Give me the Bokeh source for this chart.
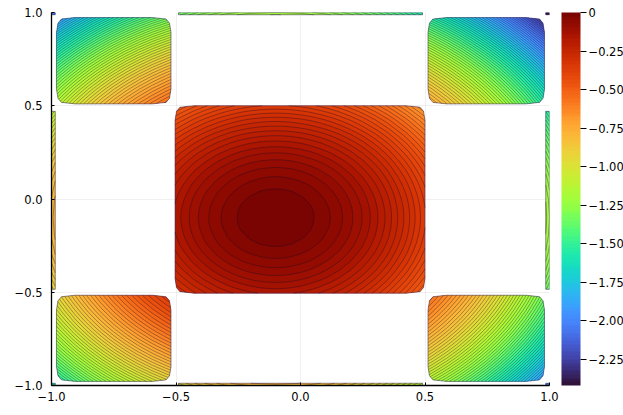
import numpy as np
from bokeh.plotting import figure
from bokeh.embed import file_html
from bokeh.resources import INLINE
from bokeh.models import (Range1d, FixedTicker, LinearColorMapper, ColorBar, BoxAnnotation, AllLabels)
from bokeh.palettes import Turbo256, linear_palette

# Depth below the peak along each axis (spacing about 0.0242).
x_left_edge = [-1.0, -0.985]
d_left_edge = [0.81, 0.7832]
x_left = [-0.98, -0.974, -0.96, -0.905, -0.85, -0.80, -0.75, -0.70, -0.65, -0.595, -0.54, -0.526, -0.52]
d_left = [0.7744, 0.7639, 0.7396, 0.6480, 0.5625, 0.49, 0.4225, 0.36, 0.3025, 0.2450, 0.1936, 0.1815, 0.1764]
x_mid = [-0.504, -0.498, -0.484, -0.429, -0.38, -0.33, -0.28, -0.24, -0.20, -0.16, -0.13, -0.10, -0.07, -0.04,
         0.0, 0.04, 0.08, 0.12, 0.16, 0.20, 0.25, 0.30, 0.35, 0.425, 0.48, 0.494, 0.5]
d_xmid = [0.1632, 0.1584, 0.1475, 0.1082, 0.0784, 0.0529, 0.0324, 0.0196, 0.01, 0.0036, 0.0009, 0.0, 0.0009, 0.0036,
          0.01, 0.0196, 0.0324, 0.0484, 0.0676, 0.09, 0.1225, 0.16, 0.2025, 0.2756, 0.3364, 0.3528, 0.36]
x_right = [0.512, 0.518, 0.532, 0.587, 0.64, 0.69, 0.74, 0.79, 0.84, 0.905, 0.96, 0.974, 0.98]
d_right = [0.3745, 0.3819, 0.3994, 0.4720, 0.5476, 0.6241, 0.7056, 0.7921, 0.8836, 1.0100, 1.1236, 1.1535, 1.1664]
x_right_edge = [0.985, 1.0]
d_right_edge = [1.1772, 1.21]
x_sliver = [-0.49, -0.4, -0.3, -0.2, -0.1, 0.0, 0.1, 0.2, 0.3, 0.4, 0.49]
d_xsliver = [0.1521, 0.09, 0.04, 0.01, 0.0, 0.01, 0.04, 0.09, 0.16, 0.25, 0.3481]

y_bottom_edge = [-1.0, -0.988]
e_bottom_edge = [0.81, 0.7885]
y_bottom = [-0.978, -0.97, -0.948, -0.898, -0.85, -0.80, -0.75, -0.70, -0.65, -0.596, -0.546, -0.524, -0.516]
e_bottom = [0.7709, 0.7569, 0.7191, 0.6368, 0.5625, 0.49, 0.4225, 0.36, 0.3025, 0.2460, 0.1989, 0.1798, 0.1731]
y_mid = [-0.505, -0.497, -0.475, -0.425, -0.38, -0.33, -0.28, -0.24, -0.20, -0.16, -0.13, -0.10, -0.07, -0.04,
         0.0, 0.04, 0.08, 0.12, 0.16, 0.20, 0.25, 0.30, 0.35, 0.42, 0.47, 0.492, 0.5]
e_ymid = [0.1640, 0.1576, 0.1406, 0.1056, 0.0784, 0.0529, 0.0324, 0.0196, 0.01, 0.0036, 0.0009, 0.0, 0.0009, 0.0036,
          0.01, 0.0196, 0.0324, 0.0484, 0.0676, 0.09, 0.1225, 0.16, 0.2025, 0.2704, 0.3249, 0.3505, 0.36]
y_top = [0.51, 0.518, 0.54, 0.59, 0.65, 0.70, 0.75, 0.80, 0.85, 0.893, 0.943, 0.965, 0.973]
e_top = [0.3721, 0.3819, 0.4096, 0.4761, 0.5625, 0.64, 0.7225, 0.81, 0.9025, 0.9860, 1.0878, 1.1342, 1.1513]
y_top_edge = [0.988, 1.0]
e_top_edge = [1.1837, 1.21]
y_sliver = [-0.484, -0.4, -0.3, -0.2, -0.1, 0.0, 0.1, 0.2, 0.3, 0.4, 0.47]
e_ysliver = [0.1475, 0.09, 0.04, 0.01, 0.0, 0.01, 0.04, 0.09, 0.16, 0.25, 0.3249]

axis_ticks = [-1.0, -0.5, 0.0, 0.5, 1.0]
axis_labels = ["\u22121.0", "\u22120.5", "0.0", "0.5", "1.0"]
bar_ticks = [0.0, -0.25, -0.5, -0.75, -1.0, -1.25, -1.5, -1.75, -2.0, -2.25]
bar_labels = ["0", "\u22120.25", "\u22120.50", "\u22120.75", "\u22121.00", "\u22121.25", "\u22121.50", "\u22121.75", "\u22122.00", "\u22122.25"]
z_low, z_high, n_bands = -2.42, 0.0, 100

levels = np.linspace(z_low, z_high, n_bands + 1)
step = levels[1] - levels[0]
under_levels = np.linspace(z_low - step / 2, z_high + step / 2, n_bands + 2)
palette = linear_palette(Turbo256, n_bands)
under_palette = linear_palette(Turbo256, n_bands + 1)

p = figure(width=623, height=415, output_backend="svg", toolbar_location=None,
           x_range=Range1d(-1, 1), y_range=Range1d(-1, 1),
           min_border_left=51, min_border_right=74, min_border_top=12, min_border_bottom=30)
p.outline_line_color = None
p.background_fill_color = "white"

tiles = [
    (x_left, d_left, y_top, e_top, True), (x_mid, d_xmid, y_mid, e_ymid, True),
    (x_right, d_right, y_top, e_top, True), (x_left, d_left, y_bottom, e_bottom, True),
    (x_right, d_right, y_bottom, e_bottom, True),
    (x_sliver, d_xsliver, y_top_edge, e_top_edge, False), (x_sliver, d_xsliver, y_bottom_edge, e_bottom_edge, False),
    (x_left_edge, d_left_edge, y_sliver, e_ysliver, False), (x_right_edge, d_right_edge, y_sliver, e_ysliver, False),
    (x_left_edge, d_left_edge, y_top_edge, e_top_edge, False), (x_right_edge, d_right_edge, y_top_edge, e_top_edge, False),
    (x_left_edge, d_left_edge, y_bottom_edge, e_bottom_edge, False), (x_right_edge, d_right_edge, y_bottom_edge, e_bottom_edge, False),
]
for xs, dx, ys, dy, rounded in tiles:
    z = -(np.array(dy)[:, None] + np.array(dx)[None, :])
    if rounded:
        for a, b in [(0, 0), (0, 1), (0, 2), (1, 0), (2, 0), (1, 1)]:
            for j in (a, -1 - a):
                for i in (b, -1 - b):
                    z[j, i] = np.nan
    xa, ya = np.array(xs), np.array(ys)
    # A half-band shifted copy underneath closes the anti-aliasing seams between bands.
    p.contour(xa, ya, z, under_levels, fill_color=under_palette, line_color=None)
    p.contour(xa, ya, z, levels, fill_color=palette, line_color="#1a0a2a", line_alpha=0.6, line_width=0.6)
    outline = p.contour(xa, ya, z, [-3.0, 1.0], fill_color=["#000000"], line_color=None)
    og = outline.fill_renderer.glyph
    og.fill_alpha = 0
    og.line_color = "#3c2a5c"
    og.line_alpha = 0.6
    og.line_width = 0.9

for ax in (p.xaxis[0], p.yaxis[0]):
    ax.ticker = FixedTicker(ticks=axis_ticks)
    ax.major_label_overrides = dict(zip(axis_ticks, axis_labels))
    ax.major_tick_in = 3
    ax.major_tick_out = 0
    ax.minor_tick_line_color = None
    ax.major_tick_line_color = "black"
    ax.axis_line_color = "black"
    ax.axis_line_width = 1.3
    ax.major_label_text_font = "DejaVu Sans"
    ax.major_label_text_font_size = "11.5px"
    ax.major_label_text_color = "black"
p.yaxis[0].major_label_standoff = 9
p.xaxis[0].major_label_standoff = 6
for gr in p.grid:
    gr.ticker = FixedTicker(ticks=axis_ticks)
    gr.grid_line_color = "black"
    gr.grid_line_alpha = 0.1
    gr.grid_line_width = 0.6

mapper = LinearColorMapper(palette=palette, low=z_low, high=z_high)
cb = ColorBar(color_mapper=mapper, location=(510, 0), width=19, height=373, margin=0, padding=0,
              ticker=FixedTicker(ticks=bar_ticks),
              major_label_overrides=dict(zip(bar_ticks, bar_labels)),
              major_label_policy=AllLabels(),
              major_tick_in=0, major_tick_out=6, major_tick_line_color="black",
              minor_tick_line_color=None, bar_line_color=None, border_line_color=None,
              background_fill_color=None,
              major_label_text_font="DejaVu Sans", major_label_text_font_size="11.5px",
              major_label_text_color="black", label_standoff=2)
p.add_layout(cb, "center")
p.add_layout(BoxAnnotation(left=580, right=581, top=12, bottom=385,
                           left_units="canvas", right_units="canvas", top_units="canvas", bottom_units="canvas",
                           fill_color="black", fill_alpha=0.8, line_color=None))

open("out.html", "w").write(file_html(p, INLINE))
